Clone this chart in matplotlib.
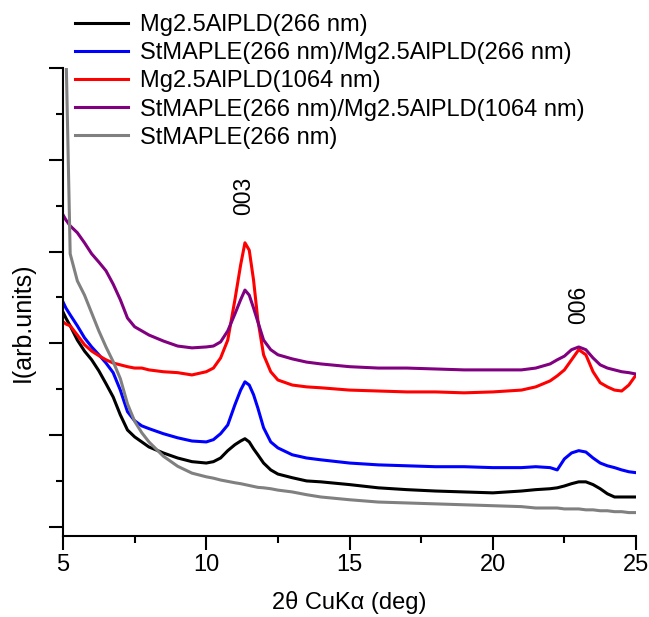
import matplotlib
matplotlib.use("Agg")
import matplotlib.pyplot as plt
from matplotlib.ticker import MultipleLocator

plt.rcParams['font.family'] = ['Liberation Sans', 'DejaVu Sans']

# 2-theta positions (deg)
two_theta = [5.0, 5.1, 5.25, 5.5, 5.75, 6.0, 6.25, 6.5, 6.75, 7.0, 7.25, 7.5, 7.75,
             8.0, 8.5, 9.0, 9.5, 10.0, 10.25, 10.5, 10.75, 11.0, 11.2, 11.35, 11.5,
             11.65, 11.8, 12.0, 12.25, 12.5, 13.0, 13.5, 14.0, 15.0, 16.0, 17.0, 18.0,
             19.0, 20.0, 21.0, 21.5, 22.0, 22.25, 22.5, 22.75, 23.0, 23.25, 23.5,
             23.75, 24.0, 24.25, 24.5, 24.75, 25.0]

# Intensities (arb. units, stacked)
mg_266 = [4.68, 4.55, 4.38, 4.07, 3.83, 3.64, 3.40, 3.12, 2.83, 2.44, 2.11, 1.96, 1.85,
          1.74, 1.61, 1.50, 1.42, 1.39, 1.42, 1.50, 1.66, 1.79, 1.87, 1.92, 1.85,
          1.70, 1.57, 1.39, 1.24, 1.15, 1.07, 1.00, 0.98, 0.92, 0.85, 0.81, 0.78,
          0.76, 0.74, 0.78, 0.81, 0.83, 0.85, 0.89, 0.94, 0.98, 0.98, 0.92,
          0.83, 0.72, 0.65, 0.65, 0.65, 0.65]

st_mg_266 = [4.90, 4.77, 4.62, 4.38, 4.12, 3.92, 3.75, 3.57, 3.36, 2.98, 2.51, 2.31, 2.20,
             2.14, 2.03, 1.94, 1.87, 1.85, 1.90, 2.03, 2.22, 2.66, 2.98, 3.16, 3.09,
             2.88, 2.59, 2.16, 1.85, 1.72, 1.57, 1.50, 1.46, 1.39, 1.35, 1.33, 1.31,
             1.31, 1.29, 1.29, 1.31, 1.29, 1.24, 1.48, 1.61, 1.66, 1.63, 1.50,
             1.39, 1.33, 1.29, 1.24, 1.20, 1.18]

mg_1064 = [4.47, 4.42, 4.38, 4.18, 3.97, 3.83, 3.73, 3.64, 3.57, 3.53, 3.49, 3.46, 3.46,
           3.42, 3.38, 3.36, 3.31, 3.38, 3.46, 3.68, 4.07, 4.95, 5.71, 6.19, 6.03,
           5.38, 4.51, 3.75, 3.38, 3.20, 3.09, 3.05, 3.03, 2.98, 2.96, 2.94, 2.94,
           2.92, 2.94, 2.98, 3.05, 3.18, 3.29, 3.42, 3.64, 3.86, 3.75, 3.38,
           3.14, 3.05, 2.98, 2.96, 3.09, 3.31]

st_mg_1064 = [6.80, 6.69, 6.56, 6.41, 6.19, 5.95, 5.77, 5.58, 5.29, 4.95, 4.55, 4.36, 4.27,
              4.18, 4.05, 3.94, 3.90, 3.92, 3.94, 4.03, 4.27, 4.64, 4.95, 5.16, 5.05,
              4.77, 4.47, 4.07, 3.86, 3.75, 3.66, 3.59, 3.55, 3.49, 3.46, 3.46, 3.44,
              3.42, 3.42, 3.42, 3.46, 3.55, 3.64, 3.72, 3.86, 3.92, 3.86, 3.68,
              3.53, 3.46, 3.42, 3.38, 3.36, 3.33]

st_266 = [13.0, 10.5, 5.95, 5.36, 5.05, 4.66, 4.27, 3.92, 3.60, 3.23, 2.68, 2.30, 2.05,
          1.85, 1.54, 1.32, 1.17, 1.09, 1.06, 1.02, 0.99, 0.96, 0.94, 0.92, 0.90,
          0.88, 0.86, 0.85, 0.83, 0.80, 0.76, 0.70, 0.65, 0.59, 0.54, 0.52, 0.50,
          0.48, 0.46, 0.44, 0.41, 0.41, 0.41, 0.39, 0.39, 0.39, 0.37, 0.37,
          0.35, 0.35, 0.33, 0.33, 0.31, 0.31]

series_labels = ["Mg2.5AlPLD(266 nm)",
                 "StMAPLE(266 nm)/Mg2.5AlPLD(266 nm)",
                 "Mg2.5AlPLD(1064 nm)",
                 "StMAPLE(266 nm)/Mg2.5AlPLD(1064 nm)",
                 "StMAPLE(266 nm)"]
series_colors = ["#000000", "#0000ff", "#ff0000", "#800080", "#808080"]

# Reflection labels and their positions
peak_labels = ["003", "006"]
peak_x = [11.32, 23.01]
peak_y = [7.21, 4.84]

fig = plt.figure(figsize=(6.49, 6.17), dpi=100)
ax = fig.add_axes([0.0971, 0.1313, 0.8829, 0.7585])

all_series = [mg_266, st_mg_266, mg_1064, st_mg_1064, st_266]
for values, label, color in zip(all_series, series_labels, series_colors):
    ax.plot(two_theta, values, color=color, lw=2.2, label=label)

ax.set_xlim(5, 25)
ax.set_ylim(-0.2, 10)

ax.spines['top'].set_visible(False)
ax.spines['right'].set_visible(False)
for side in ('left', 'bottom'):
    ax.spines[side].set_linewidth(1.5)

ax.xaxis.set_major_locator(MultipleLocator(5))
ax.xaxis.set_minor_locator(MultipleLocator(2.5))
ax.yaxis.set_major_locator(MultipleLocator(2))
ax.yaxis.set_minor_locator(MultipleLocator(1))
ax.tick_params(axis='both', which='major', direction='out', length=10, width=1.5,
               labelsize=17)
ax.tick_params(axis='both', which='minor', direction='out', length=5, width=1.5)
ax.tick_params(axis='x', which='major', pad=3)
ax.set_yticklabels([])

ax.set_xlabel("2θ CuKα (deg)", fontsize=17, labelpad=11)
ax.set_ylabel("I(arb.units)", fontsize=18)
ax.yaxis.set_label_coords(-0.049, 0.457)

for text, px, py in zip(peak_labels, peak_x, peak_y):
    ax.text(px, py, text, rotation=90, fontsize=16.5, ha='center', va='center')

fig.legend(loc='upper left', bbox_to_anchor=(0.1156, 0.977), frameon=False,
           fontsize=17, handlelength=2.25, handletextpad=0.5, labelspacing=0.26,
           borderpad=0, borderaxespad=0)

fig.savefig("out.png", dpi=100)
